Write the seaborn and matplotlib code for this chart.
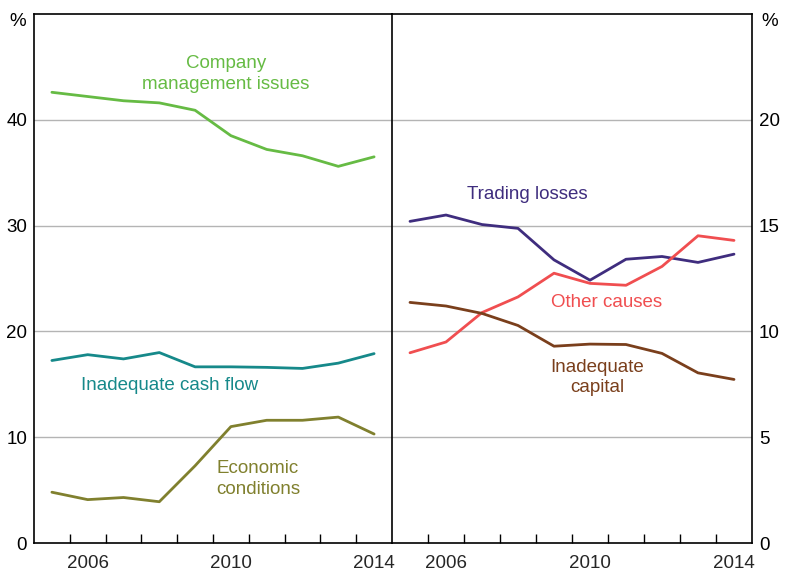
import numpy as np
import pandas as pd
import matplotlib
matplotlib.use("Agg")
import matplotlib.pyplot as plt
import seaborn as sns

sns.set_theme(style="white")
plt.rcParams['font.family'] = ['Liberation Sans', 'DejaVu Sans']

years = [2005, 2006, 2007, 2008, 2009, 2010, 2011, 2012, 2013, 2014]

# Left panel (LHS, %)
company_mgmt = [42.6, 42.2, 41.8, 41.6, 40.9, 38.5, 37.2, 36.6, 35.6, 36.5]
cash_flow = [17.25, 17.8, 17.4, 18.0, 16.65, 16.65, 16.6, 16.5, 17.0, 17.9]
economic = [4.8, 4.1, 4.3, 3.9, 7.3, 11.0, 11.6, 11.6, 11.9, 10.3]

# Right panel (RHS, %)
trading = [15.2, 15.5, 15.05, 14.87, 13.38, 12.42, 13.41, 13.54, 13.26, 13.65]
other = [8.99, 9.5, 10.89, 11.63, 12.75, 12.27, 12.18, 13.07, 14.52, 14.3]
capital = [11.37, 11.2, 10.85, 10.28, 9.3, 9.4, 9.38, 8.96, 8.04, 7.73]

left_ticks = [0, 10, 20, 30, 40, 50]
left_ticklabels = ['0', '10', '20', '30', '40', '']
right_ticks = [0, 5, 10, 15, 20, 25]
right_ticklabels = ['0', '5', '10', '15', '20', '']
year_labels = [2006, 2010, 2014]

c_company = '#66bb44'
c_cash = '#16898a'
c_econ = '#80802e'
c_trade = '#3f2d7e'
c_other = '#f04e50'
c_capital = '#7a3f1c'

x = np.array(years) + 0.5
left_df = pd.DataFrame({'x': np.tile(x, 3),
                        'v': company_mgmt + cash_flow + economic,
                        's': ['Company'] * 10 + ['Cash'] * 10 + ['Econ'] * 10})
right_df = pd.DataFrame({'x': np.tile(x, 3),
                         'v': trading + other + capital,
                         's': ['Trading'] * 10 + ['Other'] * 10 + ['Capital'] * 10})

fig = plt.figure(figsize=(7.86, 5.72), dpi=100)
axL = fig.add_axes([34/786, 1 - 543/572, (392-34)/786, (543-14)/572])
axR = fig.add_axes([392/786, 1 - 543/572, (752-392)/786, (543-14)/572])

sns.lineplot(data=left_df, x='x', y='v', hue='s', ax=axL,
             palette={'Company': c_company, 'Cash': c_cash, 'Econ': c_econ},
             linewidth=2.0, legend=False)
sns.lineplot(data=right_df, x='x', y='v', hue='s', ax=axR,
             palette={'Trading': c_trade, 'Other': c_other, 'Capital': c_capital},
             linewidth=2.0, legend=False)

fs = 13.5
tfs = 13.5
for ax, ticks, labels, ymax in [(axL, left_ticks, left_ticklabels, 50),
                                 (axR, right_ticks, right_ticklabels, 25)]:
    ax.set_xlim(2005, 2015)
    ax.set_ylim(0, ymax)
    ax.set_xlabel('')
    ax.set_ylabel('')
    ax.set_yticks(ticks)
    ax.set_yticklabels(labels, fontsize=tfs, color='black')
    for t in ticks[1:-1]:
        ax.axhline(t, color='#b4b4b4', linewidth=1.0, zorder=0)
    ax.set_xticks(np.arange(2006, 2015))
    ax.set_xticklabels([])
    ax.tick_params(axis='x', which='major', direction='in', length=6.5, width=1.0,
                   color='black', bottom=True)
    ax.set_xticks(np.array(year_labels) + 0.5, minor=True)
    ax.set_xticklabels([str(y) for y in year_labels], minor=True, fontsize=tfs)
    ax.tick_params(axis='x', which='minor', length=0, pad=9, labelsize=tfs)
    ax.tick_params(axis='y', length=0, pad=5)
    for sp in ax.spines.values():
        sp.set_color('black')
        sp.set_linewidth(1.2)
    ax.grid(False)

axR.yaxis.tick_right()
axL.spines['right'].set_visible(False)

# "%" unit labels
fig.text(18/786, 1 - 21/572, '%', fontsize=tfs, ha='center', va='center', color='black')
fig.text(770/786, 1 - 21/572, '%', fontsize=tfs, ha='center', va='center', color='black')

ls = 1.3
axL.text(2010.36, 44.3, 'Company\nmanagement issues', color=c_company, fontsize=fs,
         ha='center', va='center', linespacing=ls)
axL.text(2008.79, 14.9, 'Inadequate cash flow', color=c_cash, fontsize=fs,
         ha='center', va='center')
axL.text(2011.26, 6.07, 'Economic\nconditions', color=c_econ, fontsize=fs,
         ha='center', va='center', linespacing=ls)
axR.text(2008.75, 16.45, 'Trading losses', color=c_trade, fontsize=fs,
         ha='center', va='center')
axR.text(2010.97, 11.36, 'Other causes', color=c_other, fontsize=fs,
         ha='center', va='center')
axR.text(2010.69, 7.82, 'Inadequate\ncapital', color=c_capital, fontsize=fs,
         ha='center', va='center', linespacing=ls)

fig.savefig('out.png', dpi=100)
